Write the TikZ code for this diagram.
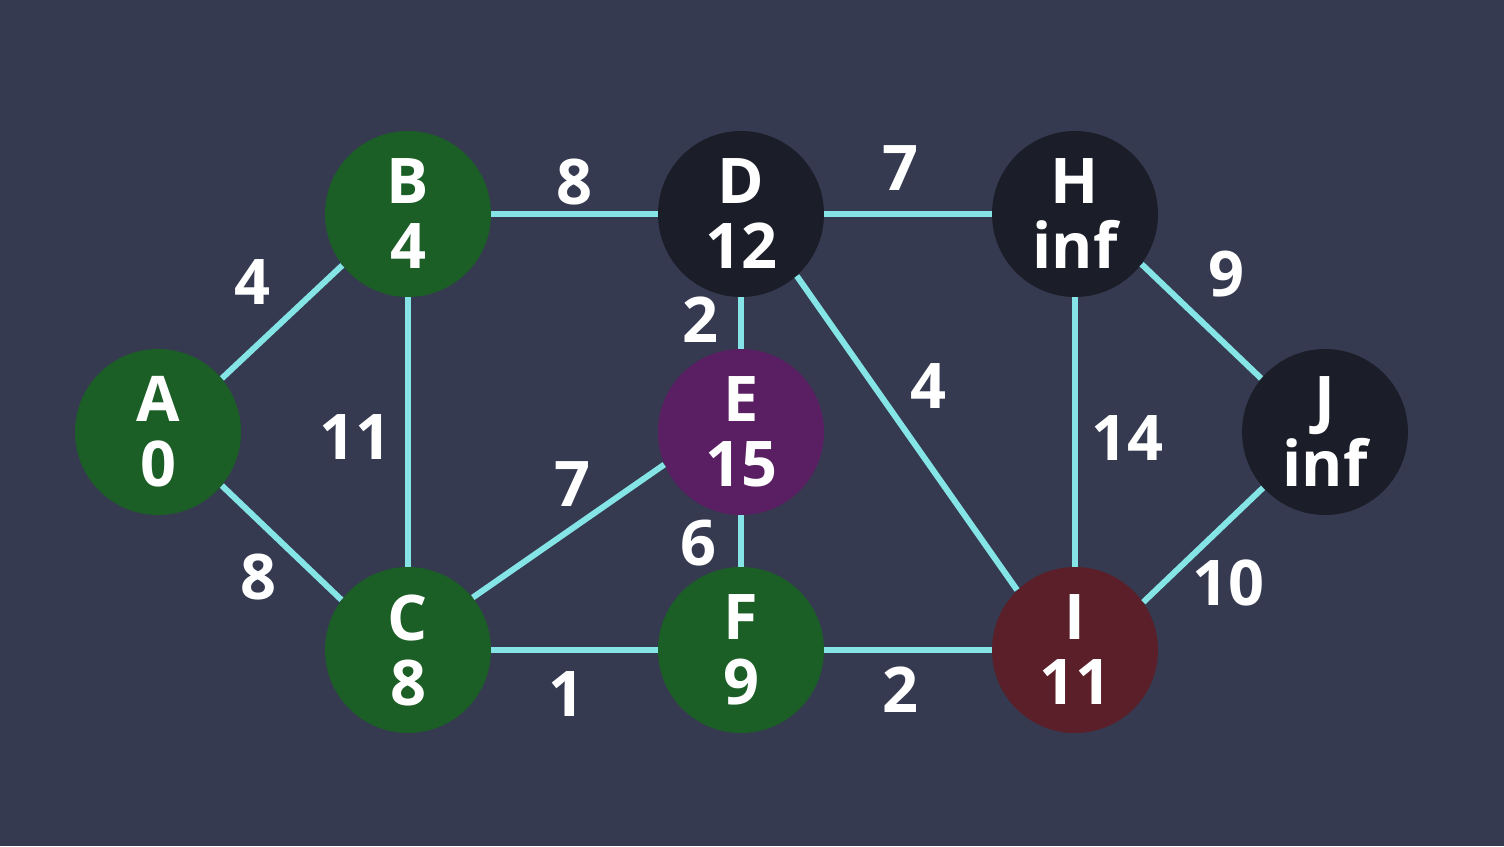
\documentclass[tikz,border=0pt]{standalone}
\usepackage{fontspec}
\setmainfont{Open Sans}
\usepackage{tikz}
\usetikzlibrary{positioning}
\definecolor{SlateBg}{RGB}{53,58,80}
\definecolor{DoneGreen}{RGB}{27,94,38}
\definecolor{OpenPurple}{RGB}{90,30,98}
\definecolor{NowRed}{RGB}{90,31,40}
\definecolor{NewBlack}{RGB}{27,30,41}
\definecolor{EdgeCyan}{RGB}{132,228,230}
\newcommand{\bigbold}{\fontsize{31.5}{32.5}\selectfont\bfseries}

\begin{document}
\begin{tikzpicture}[x=0.5pt,y=-0.5pt,
    vertex/.style={circle,minimum size=83pt,inner sep=0pt,text=white,
      align=center,font=\bigbold},
    wt/.style={text=white,inner sep=0pt,font=\bigbold},
    edge/.style={EdgeCyan,line width=3pt}]
  \fill[SlateBg] (0,0) rectangle (1504,846);
  \useasboundingbox (0,0) rectangle (1504,846);
  % vertices
  \node[vertex,fill=DoneGreen]  (A) at (158,432)  {A\\0};
  \node[vertex,fill=DoneGreen]  (B) at (408,214)  {B\\4};
  \node[vertex,fill=DoneGreen]  (C) at (408,650)  {C\\8};
  \node[vertex,fill=NewBlack]   (D) at (741,214)  {D\\12};
  \node[vertex,fill=OpenPurple] (E) at (741,432)  {E\\15};
  \node[vertex,fill=DoneGreen]  (F) at (741,650)  {F\\9};
  \node[vertex,fill=NewBlack]   (H) at (1075,214) {H\\inf};
  \node[vertex,fill=NowRed]     (I) at (1075,650) {I\\11};
  \node[vertex,fill=NewBlack]   (J) at (1325,432) {J\\inf};
  % edges
  \draw[edge] (A.40)--(B.218);
  \draw[edge] (A.-40)--(C.143);
  \draw[edge] (B)--(D);
  \draw[edge] (B)--(C);
  \draw[edge] (C.39)--(E.203);
  \draw[edge] (C)--(F);
  \draw[edge] (D)--(E);
  \draw[edge] (E)--(F);
  \draw[edge] (D)--(H);
  \draw[edge] (D.-48)--(I.134);
  \draw[edge] (F)--(I);
  \draw[edge] (H)--(I);
  \draw[edge] (H.-37)--(J.140);
  \draw[edge] (I.35)--(J.222);
  % weights
  \node[wt] (wAB) at (252,282)  {4};
  \node[wt] (wAC) at (258,577)  {8};
  \node[wt] (wBD) at (574,182)  {8};
  \node[wt] (wBC) at (355,437)  {11};
  \node[wt] (wCE) at (572,484)  {7};
  \node[wt] (wCF) at (566,694)  {1};
  \node[wt] (wDE) at (700,320)  {2};
  \node[wt] (wEF) at (698,543)  {6};
  \node[wt] (wDH) at (900,168)  {7};
  \node[wt] (wDI) at (928,386)  {4};
  \node[wt] (wFI) at (900,690)  {2};
  \node[wt] (wHI) at (1127,438) {14};
  \node[wt] (wHJ) at (1226,274) {9};
  \node[wt] (wIJ) at (1228,583) {10};
\end{tikzpicture}
\end{document}
